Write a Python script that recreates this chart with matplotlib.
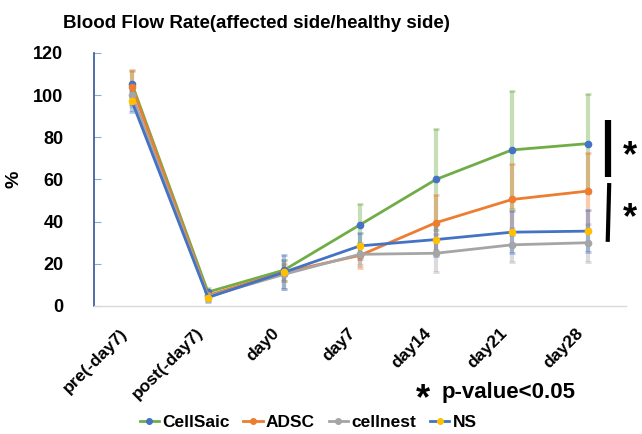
import numpy as np
import matplotlib
matplotlib.use("Agg")
import matplotlib.pyplot as plt
from matplotlib.lines import Line2D

plt.rcParams['font.family'] = ['Liberation Sans', 'DejaVu Sans']
plt.rcParams['font.weight'] = 'bold'

days = ["pre(-day7)", "post(-day7)", "day0", "day7", "day14", "day21", "day28"]

cellsaic = [105.3, 6.6, 17, 38.5, 60, 74, 77]
adsc = [104, 5, 16, 24, 39.5, 50.5, 54.5]
cellnest = [100, 4.5, 15, 24.5, 25, 29, 30]
ns = [97, 4, 16, 28.5, 31.5, 35, 35.5]

cellsaic_err = [6, 2, 5, 10, 24, 28, 23.5]
adsc_err = [8, 2, 4, 6, 13, 17, 18]
cellnest_err = [5, 2, 7, 5, 9, 8, 9]
ns_err = [5, 2, 8, 6, 8, 10, 10]

# (label, values, errors, line colour, marker colour)
series = [
    ("CellSaic", cellsaic, cellsaic_err, "#70AD47", "#4472C4"),
    ("ADSC", adsc, adsc_err, "#ED7D31", "#ED7D31"),
    ("cellnest", cellnest, cellnest_err, "#A5A5A5", "#A5A5A5"),
    ("NS", ns, ns_err, "#4472C4", "#FFC000"),
]

fig = plt.figure(figsize=(6.42, 4.34), dpi=100)
ax = fig.add_axes([0.1464, 0.295, 0.8286, 0.583])

x = np.arange(len(days))

# error bars first (faded), then lines on top
for name, vals, err, lc, mc in series:
    ax.errorbar(x, vals, yerr=err, fmt='none', ecolor=lc, elinewidth=3,
                capsize=2, capthick=2, alpha=0.4, zorder=2)

handles = []
for name, vals, err, lc, mc in series:
    ax.plot(x, vals, color=lc, linewidth=2, marker='o', markersize=4.5,
            markerfacecolor=mc, markeredgecolor=mc, zorder=3)
    handles.append(Line2D([], [], color=lc, linewidth=2, marker='o', markersize=4,
                          markerfacecolor=mc, markeredgecolor=mc, label=name))

ax.set_xlim(-0.5, len(days) - 0.5)
ax.set_ylim(0, 120)
ax.set_yticks(range(0, 121, 20))
ax.set_xticks(x)
ax.set_xticklabels([])
# rotated category labels, sitting a bit left of each tick like the original
for i, d in enumerate(days):
    ax.annotate(d, xy=(i, 0), xycoords=('data', 'axes fraction'),
                xytext=(-9, -14), textcoords='offset points',
                rotation=45, ha='right', va='top', rotation_mode='anchor',
                fontsize=12.5, fontweight='bold')
for lab in ax.get_yticklabels():
    lab.set_fontsize(13)
    lab.set_fontweight('bold')

ax.tick_params(axis='x', length=0)
ax.tick_params(axis='y', direction='in', length=5, color='#8EA9DB', pad=22)

for s in ['top', 'right']:
    ax.spines[s].set_visible(False)
ax.spines['left'].set_color('#2F5597')
ax.spines['left'].set_linewidth(1.2)
ax.spines['bottom'].set_color('#D9D9D9')
ax.spines['bottom'].set_linewidth(1)

ax.set_ylabel("%", fontsize=14, fontweight='bold')
ax.yaxis.set_label_coords(-0.135, 0.5)
fig.text(0.40, 0.945, "Blood Flow Rate(affected side/healthy side)",
         ha='center', va='center', fontsize=13.5, fontweight='bold')

# significance brackets
ax.plot([6.26, 6.26], [61.2, 88.2], color='black', linewidth=4.5,
        clip_on=False, solid_capstyle='butt')
ax.plot([6.26, 6.28], [30.4, 58.3], color='black', linewidth=3,
        clip_on=False, solid_capstyle='butt')
ax.text(6.55, 71, "*", fontsize=26, fontweight='bold', ha='center', va='center',
        clip_on=False)
ax.text(6.55, 41.5, "*", fontsize=26, fontweight='bold', ha='center', va='center',
        clip_on=False)

fig.text(0.659, 0.08, "*", fontsize=26, fontweight='bold', ha='center', va='center')
fig.text(0.688, 0.0945, "p-value<0.05", fontsize=16, fontweight='bold',
         ha='left', va='center')

fig.legend(handles=handles, loc='center', bbox_to_anchor=(0.48, 0.027), ncol=4,
           frameon=False, handlelength=1.1, handletextpad=0.2,
           columnspacing=0.8, prop={'weight': 'bold', 'size': 12.5})

fig.savefig("out.png", dpi=100)
